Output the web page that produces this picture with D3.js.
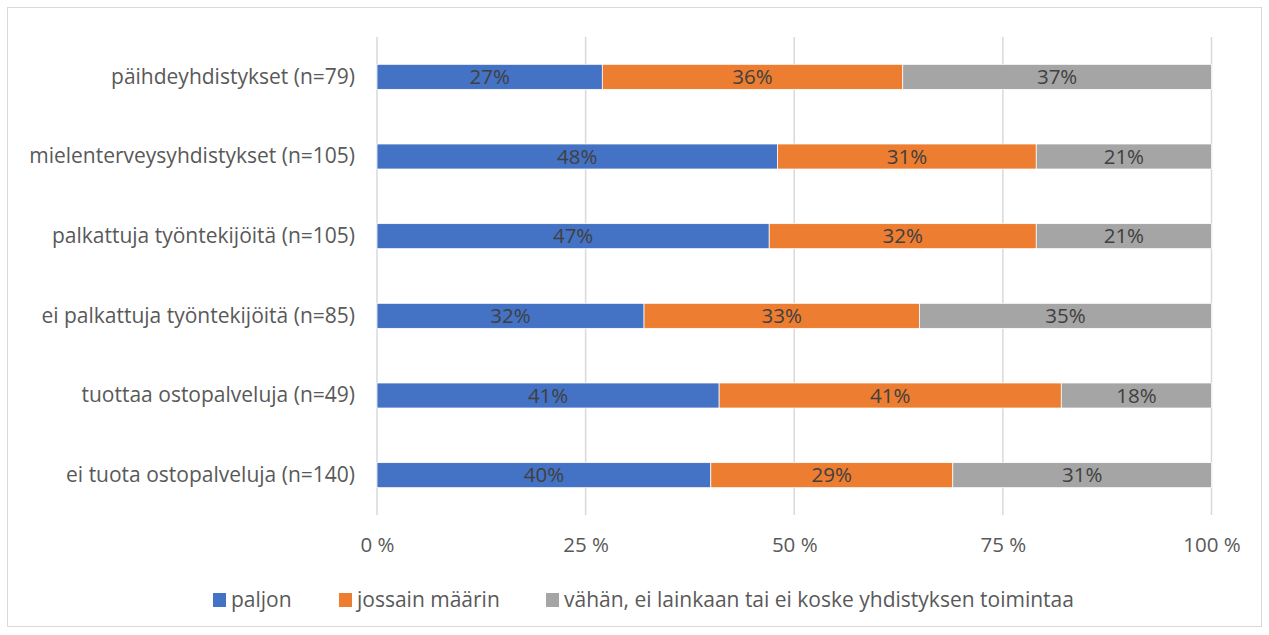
<!DOCTYPE html>
<html>
<head>
<meta charset="utf-8">
<script src="https://cdn.jsdelivr.net/npm/d3@7"></script>
<style>
  body { margin: 0; background: #fff; }
  svg { font-family: "Open Sans", "Noto Sans", sans-serif; }
</style>
</head>
<body>
<svg id="chart" width="1269" height="635"></svg>
<script>
var categories = [
  "päihdeyhdistykset (n=79)",
  "mielenterveysyhdistykset (n=105)",
  "palkattuja työntekijöitä (n=105)",
  "ei palkattuja työntekijöitä (n=85)",
  "tuottaa ostopalveluja (n=49)",
  "ei tuota ostopalveluja (n=140)"
];
var seriesNames = ["paljon", "jossain määrin", "vähän, ei lainkaan tai ei koske yhdistyksen toimintaa"];
var paljon = [27, 48, 47, 32, 41, 40];
var jossain = [36, 31, 32, 33, 41, 29];
var vahan = [37, 21, 21, 35, 18, 31];
var tickValues = [0, 25, 50, 75, 100];
var tickLabels = ["0 %", "25 %", "50 %", "75 %", "100 %"];

var colors = ["#4472c4", "#ed7d31", "#a5a5a5"];

var svg = d3.select("#chart");

// outer border
svg.append("rect")
  .attr("x", 7.5).attr("y", 7.5)
  .attr("width", 1254).attr("height", 619)
  .attr("fill", "#fff")
  .attr("stroke", "#d9d9d9");

var margin = {top: 37, left: 377};
var width = 1211.5 - 377, height = 515 - 37;

var g = svg.append("g").attr("transform", "translate(" + margin.left + "," + margin.top + ")");

var x = d3.scaleLinear().domain([0, 100]).range([0, width]);
var y = d3.scaleBand().domain(categories).range([0, height]).paddingInner(0.686).paddingOuter(0.343);

var data = categories.map(function(c, i) {
  return {cat: c, s0: paljon[i], s1: jossain[i], s2: vahan[i]};
});
var layers = d3.stack().keys(["s0", "s1", "s2"])(data);

// gridlines
g.selectAll(".grid")
  .data(tickValues)
  .enter().append("line")
  .attr("x1", function(d) { return x(d); })
  .attr("x2", function(d) { return x(d); })
  .attr("y1", 0).attr("y2", height)
  .attr("stroke", "#d9d9d9")
  .attr("stroke-width", 1.5);

var serie = g.selectAll(".serie")
  .data(layers)
  .enter().append("g")
  .attr("fill", function(d, i) { return colors[i]; });

serie.selectAll("rect")
  .data(function(d) { return d; })
  .enter().append("rect")
  .attr("x", function(d) { return x(d[0]); })
  .attr("y", function(d) { return y(d.data.cat); })
  .attr("width", function(d) { return x(d[1]) - x(d[0]); })
  .attr("height", y.bandwidth())
  .attr("stroke", "#fff")
  .attr("stroke-width", 0.75);

serie.selectAll("text")
  .data(function(d) { return d; })
  .enter().append("text")
  .attr("x", function(d) { return (x(d[0]) + x(d[1])) / 2; })
  .attr("y", function(d) { return y(d.data.cat) + y.bandwidth() / 2; })
  .attr("dy", "0.35em")
  .attr("text-anchor", "middle")
  .attr("fill", "#404040")
  .style("font-size", "20.5px")
  .text(function(d) { return (d[1] - d[0]) + "%"; });

// category labels
var yAxis = g.append("g")
  .call(d3.axisLeft(y).tickSize(0).tickPadding(22));
yAxis.select(".domain").remove();
yAxis.selectAll("text")
  .attr("fill", "#595959")
  .style("font-size", "21px")
  .style("font-family", "'Open Sans', sans-serif");

// x axis
var xAxis = g.append("g")
  .attr("transform", "translate(0," + height + ")")
  .call(d3.axisBottom(x).tickValues(tickValues).tickSize(0).tickPadding(22)
    .tickFormat(function(d, i) { return tickLabels[i]; }));
xAxis.select(".domain").remove();
xAxis.selectAll("text")
  .attr("fill", "#595959")
  .style("font-size", "20.5px")
  .style("font-family", "'Open Sans', sans-serif");

// legend
var legendX = [213, 339, 546];
var legend = svg.selectAll(".legend")
  .data(seriesNames)
  .enter().append("g")
  .attr("transform", function(d, i) { return "translate(" + legendX[i] + ",600)"; });
legend.append("rect")
  .attr("x", 0).attr("y", -7)
  .attr("width", 13).attr("height", 14)
  .attr("fill", function(d, i) { return colors[i]; });
legend.append("text")
  .attr("x", 18)
  .attr("dy", "0.35em")
  .attr("fill", "#595959")
  .style("font-size", "21px")
  .text(function(d) { return d; });
</script>
</body>
</html>
